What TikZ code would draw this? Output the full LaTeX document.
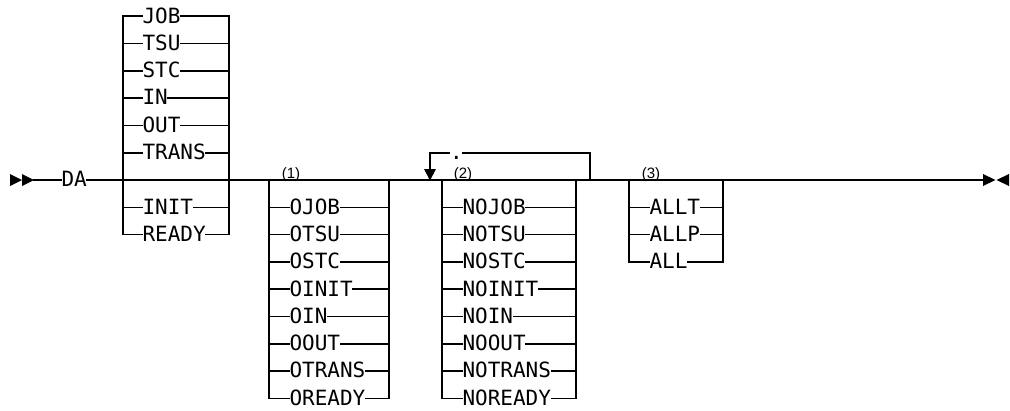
\documentclass[tikz,border=0pt]{standalone}
\usepackage{fontspec}
\setmainfont{Liberation Sans}
\newfontfamily\railfont{DejaVu Sans Mono}
\begin{document}
\begin{tikzpicture}[x=1pt,y=-1pt,
  rail/.style={line width=1.6pt, line cap=rect},
  kw/.style={font=\railfont\fontsize{21}{21}\selectfont, inner xsep=0.3pt, inner ysep=0pt, text height=15.3pt, text depth=0pt, anchor=west, yshift=0.8pt},
  note/.style={font=\fontsize{15}{15}\selectfont, inner sep=0pt, anchor=base}]
\useasboundingbox (0,0) rectangle (1010,410);
\def\dy{27.3}
% start and end marks
\fill (10,174) -- (22,180) -- (10,186) -- cycle;
\fill (22,174) -- (34,180) -- (22,186) -- cycle;
\coordinate (start) at (34,180);
\node[kw] (DA) at (61,180) {DA};
\coordinate (end) at (983,180);
\draw[rail] (start) -- (DA.west |- start);
\draw[rail] (DA.east |- end) -- (end);
\fill (983,174) -- (995.5,180) -- (983,186) -- cycle;
\fill (1009,174) -- (996.5,180) -- (1009,186) -- cycle;
% group 1
\foreach \t/\k in {JOB/-6,TSU/-5,STC/-4,IN/-3,OUT/-2,TRANS/-1,INIT/1,READY/2}{
  \node[kw] (g1\t) at (142,{180+(\k)*\dy}) {\t};
  \draw[rail] (123,{180+(\k)*\dy}) -- (g1\t.west |- 0,{180+(\k)*\dy});
  \draw[rail] (g1\t.east |- 0,{180+(\k)*\dy}) -- (229,{180+(\k)*\dy});
}
\draw[rail] (123,{180-6*\dy}) -- (123,{180+2*\dy});
\draw[rail] (229,{180-6*\dy}) -- (229,{180+2*\dy});
% group 2
\foreach \t/\k in {OJOB/1,OTSU/2,OSTC/3,OINIT/4,OIN/5,OOUT/6,OTRANS/7,OREADY/8}{
  \node[kw] (g2\t) at (289,{180+(\k)*\dy}) {\t};
  \draw[rail] (269,{180+(\k)*\dy}) -- (g2\t.west |- 0,{180+(\k)*\dy});
  \draw[rail] (g2\t.east |- 0,{180+(\k)*\dy}) -- (389,{180+(\k)*\dy});
}
\draw[rail] (269,180) -- (269,{180+8*\dy});
\draw[rail] (389,180) -- (389,{180+8*\dy});
\node[note] (n1) at (291,178.5) {(1)};
% group 3
\foreach \t/\k in {NOJOB/1,NOTSU/2,NOSTC/3,NOINIT/4,NOIN/5,NOOUT/6,NOTRANS/7,NOREADY/8}{
  \node[kw] (g3\t) at (462,{180+(\k)*\dy}) {\t};
  \draw[rail] (442,{180+(\k)*\dy}) -- (g3\t.west |- 0,{180+(\k)*\dy});
  \draw[rail] (g3\t.east |- 0,{180+(\k)*\dy}) -- (576,{180+(\k)*\dy});
}
\draw[rail] (442,180) -- (442,{180+8*\dy});
\draw[rail] (576,180) -- (576,{180+8*\dy});
\node[note] (n2) at (463,178.5) {(2)};
% repeat loop
\node[kw] (sep) at (449.5,153) {.};
\coordinate (loopR) at (590,180);
\coordinate (loopL) at (430,169);
\draw[rail] (loopR) -- (590,153) -- (sep.east |- 0,153);
\draw[rail] (sep.west |- 0,153) -- (430,153) -- (loopL);
\fill (424,169) -- (436,169) -- (430,180.5) -- cycle;
% group 4
\foreach \t/\k in {ALLT/1,ALLP/2,ALL/3}{
  \node[kw] (g4\t) at (649,{180+(\k)*\dy}) {\t};
  \draw[rail] (629,{180+(\k)*\dy}) -- (g4\t.west |- 0,{180+(\k)*\dy});
  \draw[rail] (g4\t.east |- 0,{180+(\k)*\dy}) -- (723,{180+(\k)*\dy});
}
\draw[rail] (629,180) -- (629,{180+3*\dy});
\draw[rail] (723,180) -- (723,{180+3*\dy});
\node[note] (n3) at (651,178.5) {(3)};
\end{tikzpicture}
\end{document}
